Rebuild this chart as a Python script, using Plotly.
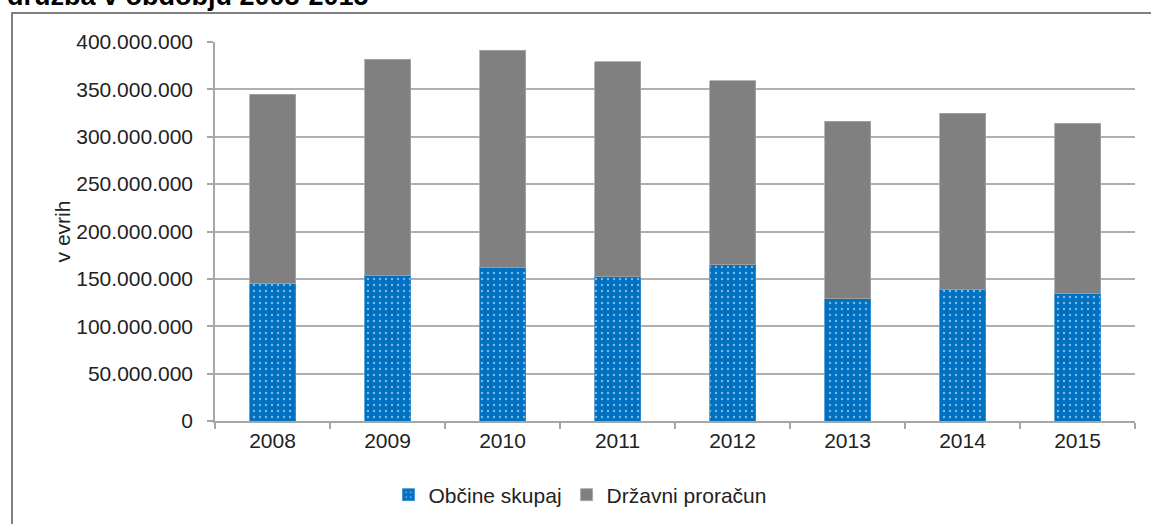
import plotly.graph_objects as go

years = ["2008", "2009", "2010", "2011", "2012", "2013", "2014", "2015"]
obcine = [145e6, 154e6, 162.5e6, 153e6, 165e6, 129e6, 139e6, 135e6]
totals = [345e6, 382e6, 391.5e6, 379e6, 359e6, 316.5e6, 325e6, 314.5e6]
drzavni = [t - o for t, o in zip(totals, obcine)]

FONT = "Liberation Sans, Arial, sans-serif"

fig = go.Figure()
fig.add_trace(go.Bar(
    x=years, y=obcine, name="Občine skupaj",
    marker=dict(color="#0070C0",
                line=dict(color="#3a8fd0", width=0.8),
                pattern=dict(shape=".", fgcolor="#ffffff", bgcolor="#0070C0",
                             size=6, solidity=0.12)),
))
fig.add_trace(go.Bar(
    x=years, y=drzavni, name="Državni proračun",
    marker=dict(color="#808080", line=dict(color="#a6a6a6", width=0.8)),
))

W, H = 1151, 524
L, R, T, B = 215, 16, 42, 103
pw = W - L - R
ph = H - T - B

def px_x(p):
    return (p - L) / pw

def px_y(p):
    return (H - B - p) / ph

fig.update_layout(
    width=W, height=H,
    margin=dict(l=L, r=R, t=T, b=B, autoexpand=False),
    barmode="stack",
    bargap=0.6,
    separators=",.",
    plot_bgcolor="white",
    paper_bgcolor="white",
    font=dict(family=FONT, size=21, color="#222222"),
    showlegend=True,
    legend=dict(orientation="h", x=px_x(580), xanchor="center",
                y=px_y(495), yanchor="middle", traceorder="normal",
                font=dict(size=21, color="#222222"),
                itemwidth=30, tracegroupgap=0, bgcolor="rgba(0,0,0,0)"),
    xaxis=dict(
        type="category",
        showline=True, linecolor="#a6a6a6", linewidth=1.5,
        ticks="outside", ticklen=6, tickcolor="#a6a6a6", tickwidth=1.5,
        tickson="boundaries",
        showgrid=False,
        tickfont=dict(size=21, color="#222222"),
    ),
    yaxis=dict(
        range=[0, 400e6],
        tickvals=[0, 50e6, 100e6, 150e6, 200e6, 250e6, 300e6, 350e6, 400e6],
        tickformat=",d",
        showline=True, linecolor="#a6a6a6", linewidth=1.5,
        ticks="outside", ticklen=6, tickcolor="#a6a6a6", tickwidth=1.5,
        ticklabelstandoff=10,
        showgrid=True, gridcolor="#b0b0b0", gridwidth=1.5,
        zeroline=False,
        tickfont=dict(size=21, color="#222222"),
        title=dict(text="v evrih", standoff=0,
                   font=dict(size=21, color="#222222")),
    ),
    shapes=[
        dict(type="rect", xref="paper", yref="paper",
             x0=px_x(12), x1=px_x(1170), y0=px_y(13), y1=px_y(560),
             line=dict(color="#808080", width=2), fillcolor="rgba(0,0,0,0)",
             layer="below"),
    ],
    annotations=[
        dict(text="<b>družba v obdobju 2008-2015</b>", xref="paper", yref="paper",
             x=px_x(5), y=px_y(13), xanchor="left", yanchor="bottom",
             showarrow=False, font=dict(family=FONT, size=27, color="#000000")),
    ],
)

fig.write_html("out.html", config={"displayModeBar": False},
               post_script="document.body.style.margin='0px';document.body.style.overflow='hidden';")
